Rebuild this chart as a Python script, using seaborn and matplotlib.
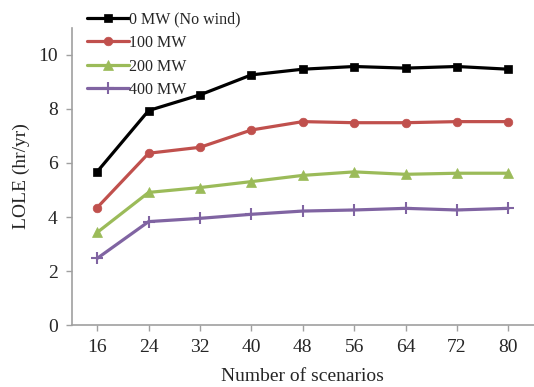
import matplotlib
matplotlib.use("Agg")
import matplotlib.pyplot as plt
import seaborn as sns
import pandas as pd

scenarios = [16, 24, 32, 40, 48, 56, 64, 72, 80]
mw0 = [5.68, 7.94, 8.52, 9.26, 9.47, 9.57, 9.51, 9.57, 9.47]
mw100 = [4.35, 6.36, 6.58, 7.22, 7.53, 7.49, 7.49, 7.53, 7.53]
mw200 = [3.43, 4.91, 5.09, 5.31, 5.54, 5.67, 5.58, 5.62, 5.62]
mw400 = [2.47, 3.83, 3.95, 4.10, 4.22, 4.26, 4.32, 4.26, 4.32]
labels = ["0 MW (No wind)", "100 MW", "200 MW", "400 MW"]

sns.set_theme(style="white")
plt.rcParams['font.family'] = ['Liberation Serif', 'DejaVu Serif']

fig = plt.figure(figsize=(5.34, 3.87), dpi=100)
ax = fig.add_axes([0.134, 0.160, 0.866, 0.768])

series = [mw0, mw100, mw200, mw400]
colors = ["#000000", "#C0504D", "#9BBB59", "#8064A2"]
markers = ["s", "o", "^", "+"]
msizes = [6.2, 6.2, 6.5, 8]

for vals, lab, c, m, ms in zip(series, labels, colors, markers, msizes):
    df = pd.DataFrame({"x": scenarios, "y": vals})
    sns.lineplot(data=df, x="x", y="y", ax=ax, color=c, marker=m, markersize=ms,
                 markeredgecolor=c, markeredgewidth=1.5 if m == "+" else 0.5,
                 linewidth=2.3, label=lab)

ax.set_xlim(12, 84)
ax.set_ylim(0, 11)
ax.set_xticks(scenarios)
ax.set_xticklabels([str(s) for s in scenarios])
ax.set_yticks([0, 2, 4, 6, 8, 10])
ax.tick_params(axis='both', labelsize=14, direction='out', length=4, width=1,
               color='#A0A0A0', bottom=True, left=True, pad=6)
ax.set_xlabel("Number of scenarios", fontsize=14, labelpad=8.5)
ax.set_ylabel("LOLE (hr/yr)", fontsize=14, labelpad=6)

for s in ['top', 'right']:
    ax.spines[s].set_visible(False)
for s in ['left', 'bottom']:
    ax.spines[s].set_color('#A0A0A0')
    ax.spines[s].set_linewidth(1.2)

leg = ax.legend(loc='upper left', bbox_to_anchor=(0.145, 0.995), bbox_transform=fig.transFigure,
                frameon=False, fontsize=11.5, handlelength=2.6, handletextpad=0.05,
                labelspacing=0.47, borderaxespad=0.2)

fig.savefig("out.png", dpi=100)
